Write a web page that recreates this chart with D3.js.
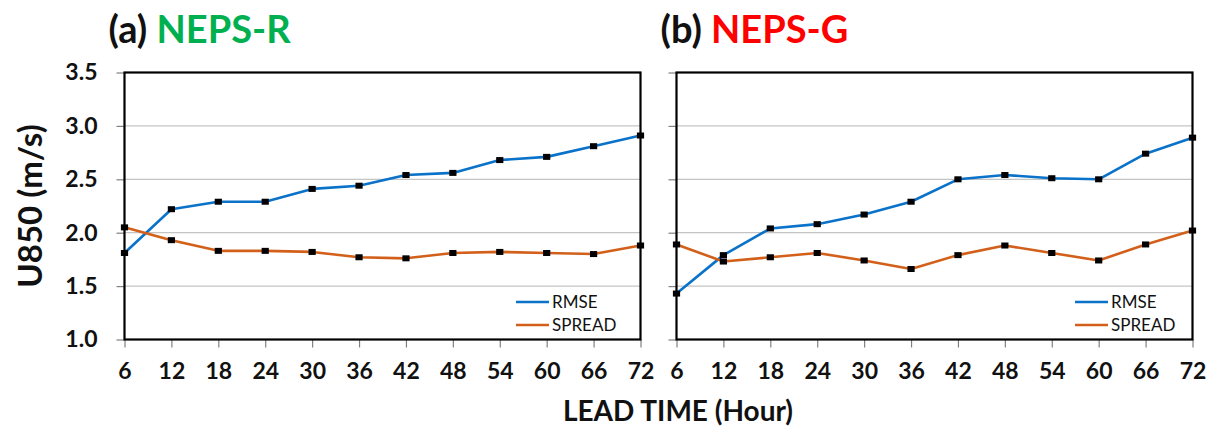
<!DOCTYPE html>
<html>
<head>
<meta charset="utf-8">
<script src="https://cdn.jsdelivr.net/npm/d3@7"></script>
<style>
  html, body { margin: 0; padding: 0; background: #fff; }
  svg { display: block; }
  text { font-family: Lato, "Open Sans", sans-serif; }
</style>
</head>
<body>
<svg id="chart" width="1216" height="432"></svg>
<script>
// Lead times (hours) and y-axis ticks
const leadHours = [6, 12, 18, 24, 30, 36, 42, 48, 54, 60, 66, 72];
const yTickValues = [1.0, 1.5, 2.0, 2.5, 3.0, 3.5];

// U850 RMSE and ensemble spread (m/s)
const rmseNepsR   = [1.81, 2.22, 2.29, 2.29, 2.41, 2.44, 2.54, 2.56, 2.68, 2.71, 2.81, 2.91];
const spreadNepsR = [2.05, 1.93, 1.83, 1.83, 1.82, 1.77, 1.76, 1.81, 1.82, 1.81, 1.80, 1.88];
const rmseNepsG   = [1.43, 1.79, 2.04, 2.08, 2.17, 2.29, 2.50, 2.54, 2.51, 2.50, 2.74, 2.89];
const spreadNepsG = [1.89, 1.73, 1.77, 1.81, 1.74, 1.66, 1.79, 1.88, 1.81, 1.74, 1.89, 2.02];

const seriesNames = ["RMSE", "SPREAD"];
const seriesColors = ["#0A72C8", "#D2601A"];

const panels = [
  { tag: "(a)", name: "NEPS-R", nameColor: "#00B050", left: 124.5, legendX: 516, showYLabels: true,
    series: [rmseNepsR, spreadNepsR] },
  { tag: "(b)", name: "NEPS-G", nameColor: "#FF0000", left: 676.5, legendX: 1075, showYLabels: false,
    series: [rmseNepsG, spreadNepsG] }
];

const plotTop = 72.5, plotWidth = 516, plotHeight = 267;
const svg = d3.select("#chart");

const x = d3.scalePoint().domain(leadHours).range([0, plotWidth]);
const y = d3.scaleLinear().domain([1.0, 3.5]).range([plotHeight, 0]);

panels.forEach(p => {
  const g = svg.append("g").attr("transform", `translate(${p.left},${plotTop})`);

  // horizontal gridlines
  g.selectAll("line.grid")
    .data(yTickValues.filter(v => v > 1.0 && v < 3.5))
    .join("line")
    .attr("class", "grid")
    .attr("x1", 0).attr("x2", plotWidth)
    .attr("y1", d => y(d)).attr("y2", d => y(d))
    .attr("stroke", "#c4c4c4").attr("stroke-width", 1.2);

  // y axis
  const yAxis = g.append("g")
    .call(d3.axisLeft(y).tickValues(yTickValues).tickSize(8).tickPadding(19)
      .tickFormat(p.showYLabels ? d3.format(".1f") : () => ""));
  yAxis.select(".domain").remove();
  yAxis.selectAll(".tick line").attr("stroke", "#808080").attr("stroke-width", 1.2);
  yAxis.selectAll(".tick text")
    .attr("fill", "#111").attr("font-size", 23).attr("font-weight", 700)
    .attr("font-family", "Lato, sans-serif");

  // x axis
  const xAxis = g.append("g").attr("transform", `translate(0,${plotHeight})`)
    .call(d3.axisBottom(x).tickSize(8).tickPadding(15));
  xAxis.select(".domain").remove();
  xAxis.selectAll(".tick line").attr("stroke", "#808080").attr("stroke-width", 1.2);
  xAxis.selectAll(".tick text")
    .attr("fill", "#111").attr("font-size", 23).attr("font-weight", 700)
    .attr("font-family", "Lato, sans-serif");

  // plot frame
  g.append("rect")
    .attr("x", 0).attr("y", 0).attr("width", plotWidth).attr("height", plotHeight)
    .attr("fill", "none").attr("stroke", "#000").attr("stroke-width", 2.2);

  // lines and markers
  const line = d3.line().x((d, i) => x(leadHours[i])).y(d => y(d));
  p.series.forEach((vals, si) => {
    g.append("path")
      .datum(vals)
      .attr("d", line)
      .attr("fill", "none")
      .attr("stroke", seriesColors[si])
      .attr("stroke-width", 2.6)
      .attr("stroke-linejoin", "round");
    g.selectAll(null)
      .data(vals)
      .join("rect")
      .attr("x", (d, i) => x(leadHours[i]) - 3.6)
      .attr("y", d => y(d) - 3)
      .attr("width", 7.2).attr("height", 6)
      .attr("fill", "#000");
  });

  // legend
  const lg = svg.append("g");
  seriesNames.forEach((nm, si) => {
    const ly = 302 + si * 23;
    lg.append("line")
      .attr("x1", p.legendX).attr("x2", p.legendX + 33)
      .attr("y1", ly).attr("y2", ly)
      .attr("stroke", seriesColors[si]).attr("stroke-width", 2.6);
    lg.append("text")
      .attr("x", p.legendX + 36).attr("y", ly)
      .attr("dy", "0.36em")
      .attr("font-size", 17).attr("fill", "#111")
      .text(nm);
  });

  // panel title
  const t = svg.append("text")
    .attr("x", p.left - 16).attr("y", 43)
    .attr("font-size", 38).attr("font-weight", 700);
  t.append("tspan").attr("fill", "#111").text(p.tag + " ");
  t.append("tspan").attr("fill", p.nameColor).text(p.name);
});

// axis titles
svg.append("text")
  .attr("transform", `translate(42,${plotTop + plotHeight / 2}) rotate(-90)`)
  .attr("text-anchor", "middle")
  .attr("font-size", 33).attr("font-weight", 700).attr("fill", "#111")
  .text("U850 (m/s)");

svg.append("text")
  .attr("x", 678).attr("y", 421)
  .attr("text-anchor", "middle")
  .attr("font-size", 28).attr("font-weight", 700).attr("fill", "#111")
  .text("LEAD TIME (Hour)");
</script>
</body>
</html>
